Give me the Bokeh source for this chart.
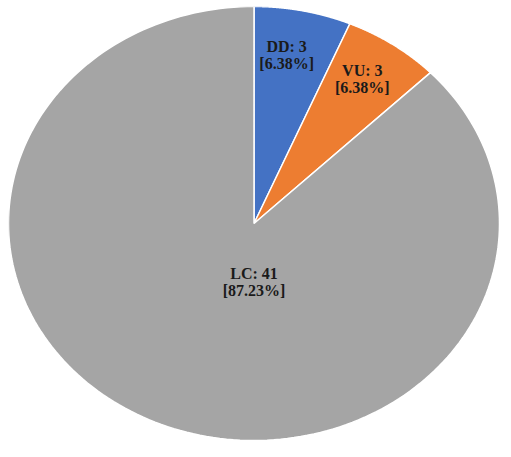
import numpy as np
from bokeh.plotting import figure
from bokeh.models import ColumnDataSource, Range1d
from bokeh.core.properties import value
from bokeh.embed import file_html
from bokeh.resources import INLINE

categories = ["DD", "VU", "LC"]
counts = [3, 3, 41]
percent_labels = ["6.38%", "6.38%", "87.23%"]
colors = ["#4472C4", "#ED7D31", "#A5A5A5"]

# label placement (fraction of radius, angle offset in degrees from slice mid) - layout only
label_pos = [(0.79, -1.8), (0.80, -1.0), None]
lc_label_xy = (0.0, -0.27)

total = sum(counts)
fracs = np.array(counts) / total
ends = np.cumsum(fracs) * 2 * np.pi
starts = ends - fracs * 2 * np.pi

xs, ys = [], []
for s, e in zip(starts, ends):
    t = np.linspace(s, e, 200)
    xs.append([0.0] + list(np.sin(t)) + [0.0])
    ys.append([0.0] + list(np.cos(t)) + [0.0])

p = figure(width=8 + 491, height=6 + 434, output_backend="svg", toolbar_location=None,
           x_range=Range1d(-1.0, 1.0), y_range=Range1d(-1.0, 1.0),
           min_border=0, min_border_left=8, min_border_top=6,
           outline_line_color=None)
p.axis.visible = False
p.grid.visible = False
p.background_fill_color = "white"

src = ColumnDataSource(dict(xs=xs, ys=ys, color=colors))
p.patches("xs", "ys", source=src, fill_color="color", line_color="white", line_width=1.5)

lx, ly, txt = [], [], []
for i, (c, n, pc) in enumerate(zip(categories, counts, percent_labels)):
    if label_pos[i] is None:
        x, y = lc_label_xy
    else:
        r, off = label_pos[i]
        mid = (starts[i] + ends[i]) / 2 + np.radians(off)
        x, y = r * np.sin(mid), r * np.cos(mid)
    lx.append(x)
    ly.append(y)
    txt.append(f"{c}: {n}\n[{pc}]")

p.text(x=lx, y=ly, text=txt, text_align="center", text_baseline="middle",
       text_font=value("Liberation Serif"), text_font_style="bold",
       text_font_size="16px", text_color="#1a1a1a", text_line_height=1.0)

open("out.html", "w").write(file_html(p, INLINE))
